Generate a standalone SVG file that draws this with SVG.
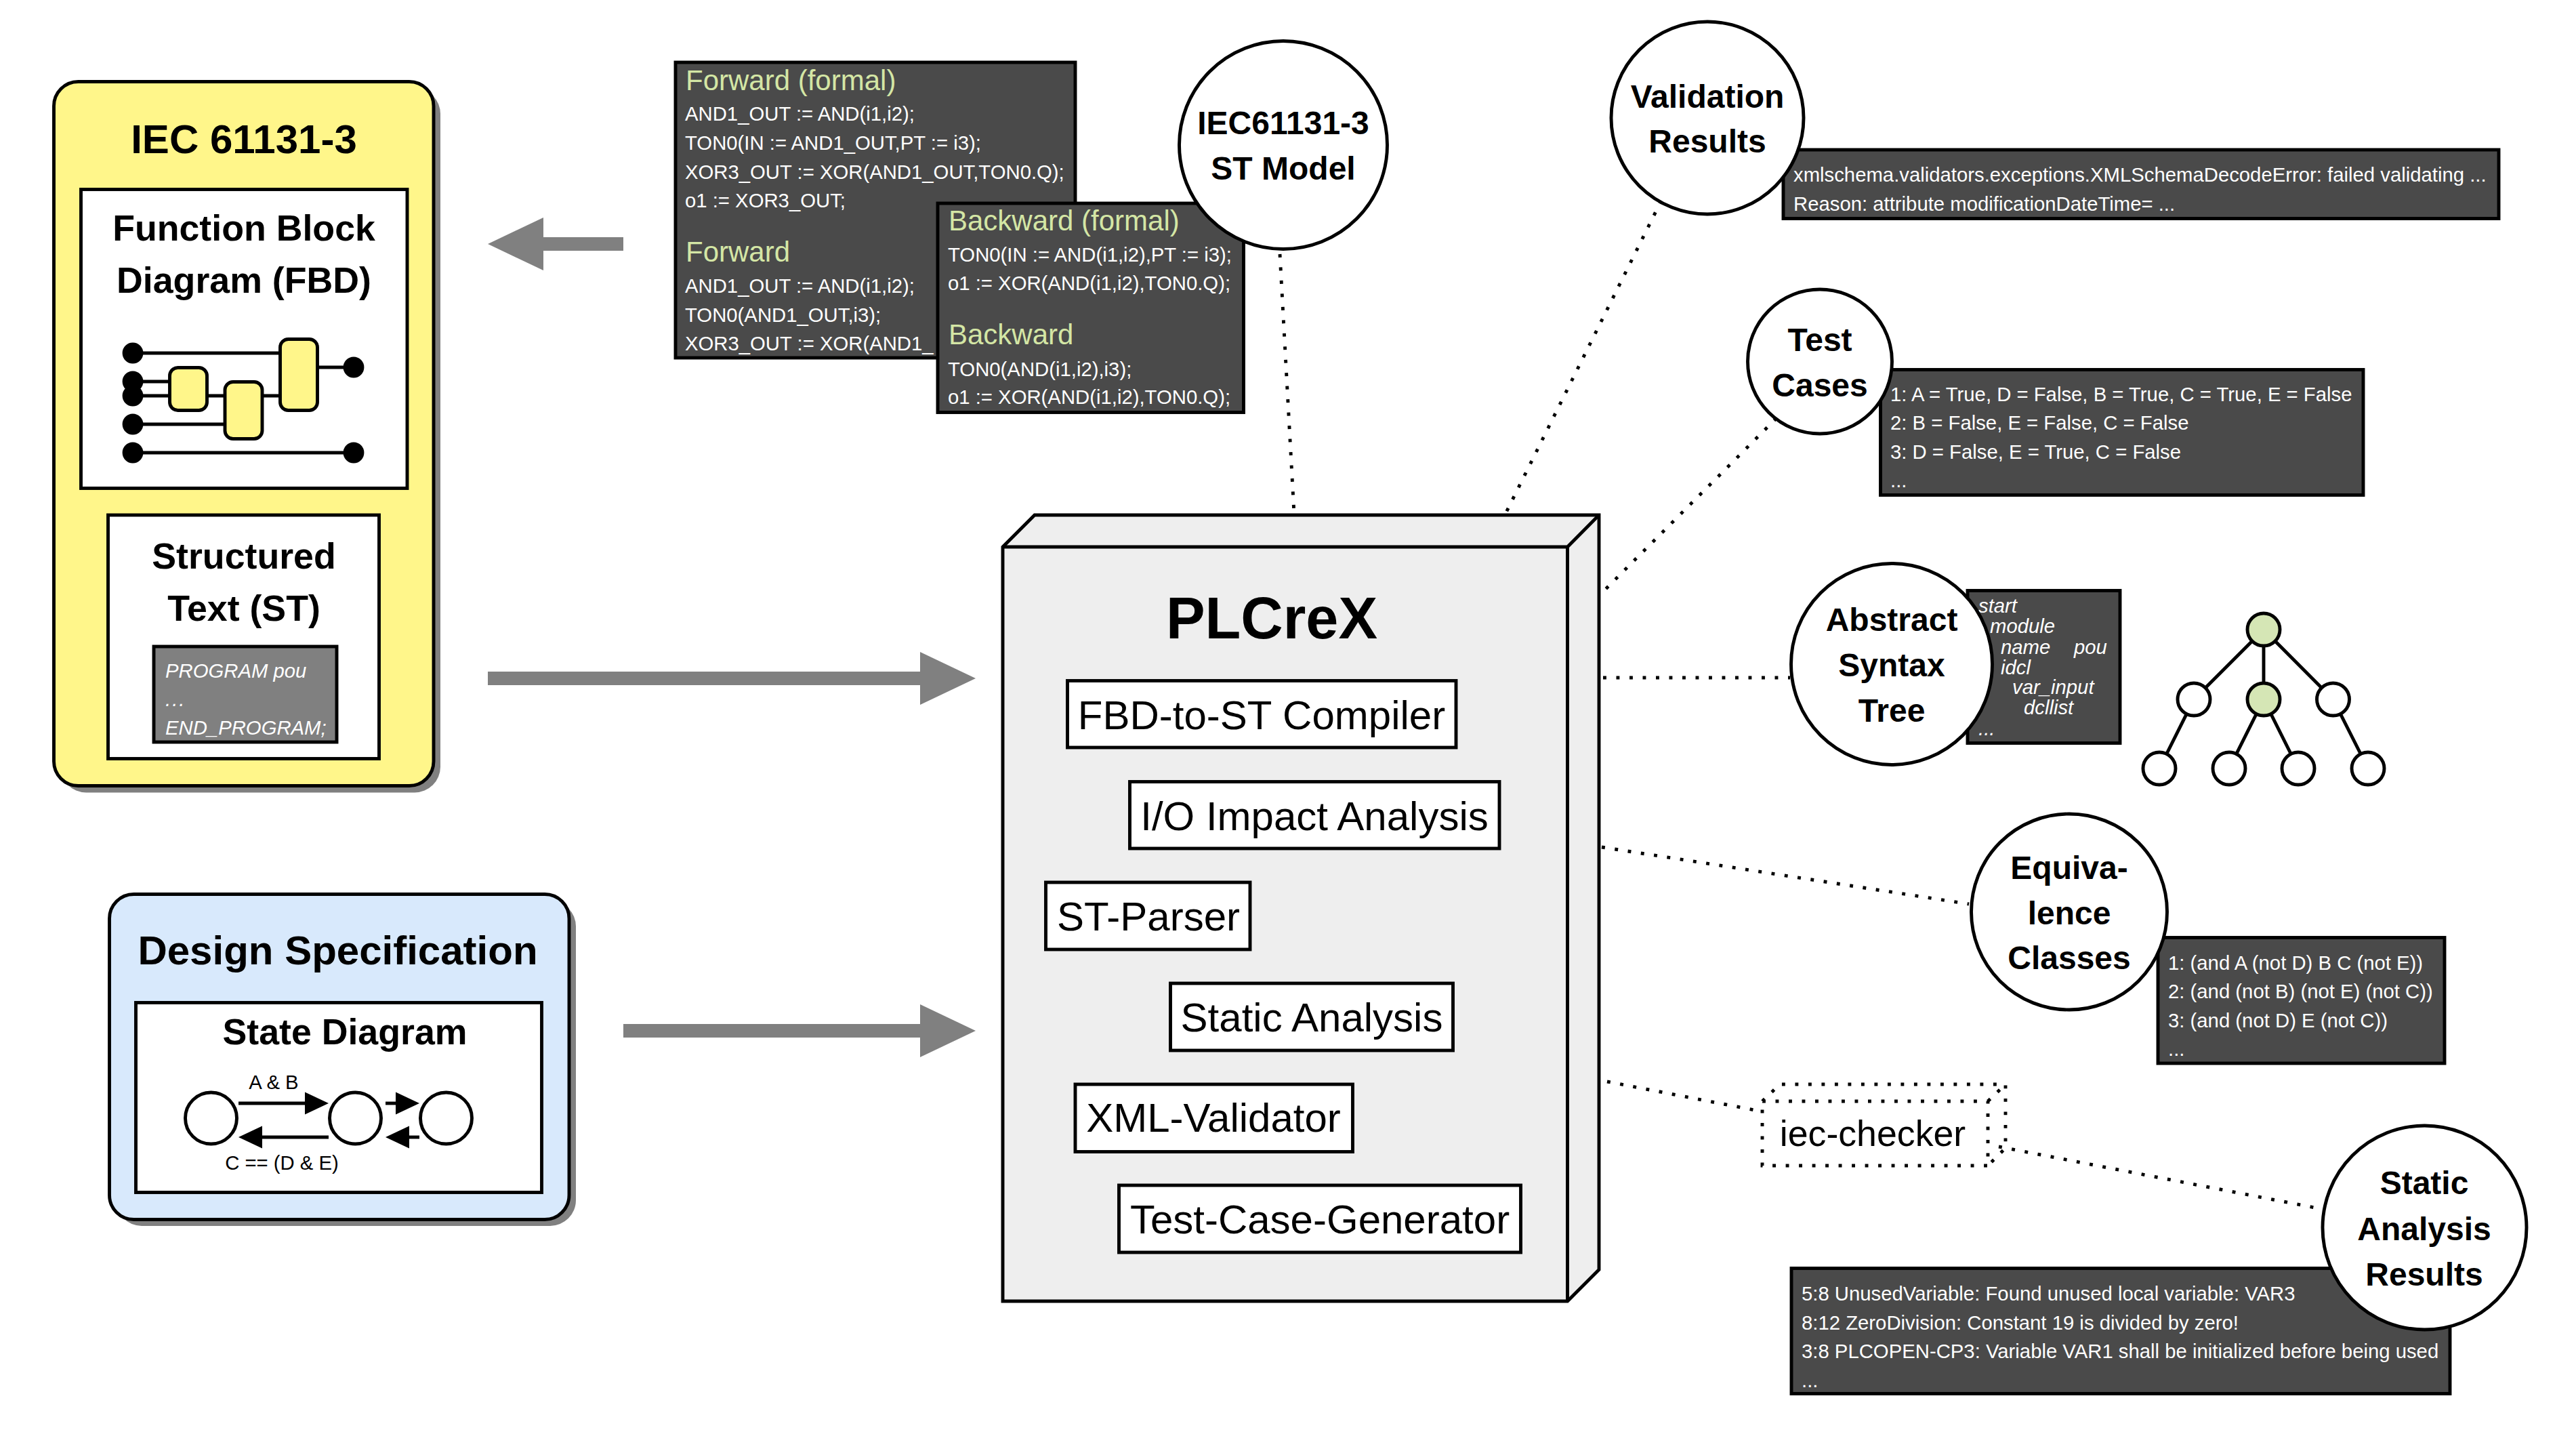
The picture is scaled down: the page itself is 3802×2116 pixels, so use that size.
<svg xmlns="http://www.w3.org/2000/svg" width="3802" height="2116" viewBox="0 0 3802 2116">
<defs>
<style>
text{font-family:"Liberation Sans",Arial,sans-serif;fill:#000}
.b{fill:none;stroke:#000;stroke-width:4.9}
.w{fill:#fff;stroke:#000;stroke-width:4.9}
.y{fill:#fff68a;stroke:#000;stroke-width:4.9}
.code{fill:#4a4a4a;stroke:#000;stroke-width:4.9}
.shadow{fill:#808080}
.dot{fill:none;stroke:#000;stroke-width:4.9;stroke-dasharray:4.9 14.6}
.fat{fill:none;stroke:#808080;stroke-width:20}
.l{stroke:#000;stroke-width:4.9;fill:none}
.h1{font-size:60px;font-weight:700;text-anchor:middle}
.h2{font-size:53.7px;font-weight:700;text-anchor:middle}
.h3{font-size:48px;font-weight:700;text-anchor:middle}
.mod{font-size:60px;text-anchor:middle}
.t{font-size:29.3px;fill:#fff}
.i{font-size:29.3px;fill:#fff;font-style:italic}
.g{font-size:42px;fill:#d4e6a5}
.s{font-size:29.3px;text-anchor:middle}
</style>
<marker id="fatHead" markerUnits="userSpaceOnUse" markerWidth="84" markerHeight="80" refX="0" refY="40" orient="auto"><path d="M0 1L82 40L0 79Z" fill="#808080"/></marker>
<marker id="smallHead" markerUnits="userSpaceOnUse" markerWidth="36" markerHeight="34" refX="0" refY="17" orient="auto"><path d="M0 0.5L35 17L0 33.5Z" fill="#000"/></marker>
</defs>
<g id="connectors">
<line class="fat" x1="920" y1="360" x2="802" y2="360" marker-end="url(#fatHead)"/>
<line class="fat" x1="720" y1="1001" x2="1358" y2="1001" marker-end="url(#fatHead)"/>
<line class="fat" x1="920" y1="1521" x2="1358" y2="1521" marker-end="url(#fatHead)"/>
<line class="dot" x1="1889" y1="375" x2="1910" y2="758"/>
<line class="dot" x1="2452" y1="296" x2="2222" y2="758"/>
<line class="dot" x1="2622" y1="617" x2="2360" y2="879"/>
<line class="dot" x1="2366" y1="1000" x2="2642" y2="1000"/>
<line class="dot" x1="2364" y1="1250" x2="2906" y2="1334"/>
<line class="dot" x1="2372" y1="1596" x2="2600" y2="1640"/>
<line class="dot" x1="2950" y1="1692" x2="3427" y2="1784"/>
</g>
<g id="iec-standard">
<rect class="shadow" x="89" y="130" width="561" height="1039.500" rx="38"/>
<rect class="y" x="79.500" y="120.500" width="560.500" height="1039" rx="36"/>
<text class="h1" x="360" y="226">IEC 61131-3</text>
</g>
<g id="fbd">
<rect class="w" x="119.500" y="279.500" width="481.500" height="441"/>
<text class="h2" x="360" y="355">Function Block</text>
<text class="h2" x="360" y="432">Diagram (FBD)</text>
<path class="l" d="M196 521H412M196 563H250M196 584H250M306 584H331M387 584H412M196 626H331M196 668H522M469 542H522"/>
<circle cx="196" cy="521" r="15.400"/><circle cx="196" cy="563" r="15.400"/><circle cx="196" cy="584" r="15.400"/><circle cx="196" cy="626" r="15.400"/><circle cx="196" cy="668" r="15.400"/><circle cx="522" cy="542" r="15.400"/><circle cx="522" cy="668" r="15.400"/>
<rect class="y" x="250.500" y="542.500" width="55" height="63" rx="12"/>
<rect class="y" x="332" y="563.500" width="55" height="84" rx="12"/>
<rect class="y" x="413.500" y="500.500" width="55" height="105" rx="12"/>
</g>
<g id="st">
<rect class="w" x="159.500" y="760" width="400" height="359.500"/>
<text class="h2" x="360" y="839">Structured</text>
<text class="h2" x="360" y="916">Text (ST)</text>
<rect x="227" y="954" width="270" height="141" fill="#808080" stroke="#000" stroke-width="4.900"/>
<text class="i" x="244" y="1000">PROGRAM pou</text>
<text class="i" x="244" y="1042" letter-spacing="2">...</text>
<text class="i" x="244" y="1084">END_PROGRAM;</text>
</g>
<g id="forward-code">
<rect class="code" x="997" y="92" width="590" height="436"/>
<text class="g" x="1012" y="133">Forward (formal)</text>
<text class="t" x="1011" y="178">AND1_OUT := AND(i1,i2);</text>
<text class="t" x="1011" y="221">TON0(IN := AND1_OUT,PT := i3);</text>
<text class="t" x="1011" y="264">XOR3_OUT := XOR(AND1_OUT,TON0.Q);</text>
<text class="t" x="1011" y="306">o1 := XOR3_OUT;</text>
<text class="g" x="1012" y="386">Forward</text>
<text class="t" x="1011" y="432">AND1_OUT := AND(i1,i2);</text>
<text class="t" x="1011" y="475">TON0(AND1_OUT,i3);</text>
<text class="t" x="1011" y="517">XOR3_OUT := XOR(AND1_</text>
</g>
<g id="backward-code">
<rect class="code" x="1384" y="300" width="451.500" height="308.500"/>
<text class="g" x="1400" y="340">Backward (formal)</text>
<text class="t" x="1399" y="386">TON0(IN := AND(i1,i2),PT := i3);</text>
<text class="t" x="1399" y="428">o1 := XOR(AND(i1,i2),TON0.Q);</text>
<text class="g" x="1400" y="508">Backward</text>
<text class="t" x="1399" y="555">TON0(AND(i1,i2),i3);</text>
<text class="t" x="1399" y="596">o1 := XOR(AND(i1,i2),TON0.Q);</text>
</g>
<g id="st-model">
<circle class="w" cx="1894" cy="214" r="153.500"/>
<text class="h3" x="1894" y="198">IEC61131-3</text>
<text class="h3" x="1894" y="265">ST Model</text>
</g>
<g id="design-spec">
<rect class="shadow" x="171" y="1329" width="679" height="480" rx="38"/>
<rect class="b" x="161.500" y="1319.500" width="678.500" height="480" rx="36" style="fill:#d8e9fc"/>
<text class="h1" x="498.500" y="1423">Design Specification</text>
<rect class="w" x="200.500" y="1479.500" width="599" height="280"/>
<text class="h2" x="509" y="1541">State Diagram</text>
<circle class="w" cx="311.500" cy="1650" r="38"/>
<circle class="w" cx="524.500" cy="1650" r="38"/>
<circle class="w" cx="658.500" cy="1650" r="38"/>
<line class="l" x1="352" y1="1628" x2="450" y2="1628" marker-end="url(#smallHead)"/>
<line class="l" x1="569" y1="1628" x2="584" y2="1628" marker-end="url(#smallHead)"/>
<line class="l" x1="485" y1="1678" x2="387" y2="1678" marker-end="url(#smallHead)"/>
<line class="l" x1="619" y1="1678" x2="604" y2="1678" marker-end="url(#smallHead)"/>
<text class="s" x="404" y="1607">A &amp; B</text>
<text class="s" x="416" y="1726">C == (D &amp; E)</text>
</g>
<g id="plcrex">
<path d="M1480 807L1527 760H2360V1873.500L2313.500 1920H1480Z" fill="#eee" stroke="#000" stroke-width="4.900"/>
<path class="b" d="M1480 807H2313.500L2360 760M2313.500 807V1920"/>
<text x="1877" y="942" font-size="86.400" font-weight="700" text-anchor="middle">PLCreX</text>
</g>
<g id="fbd-compiler"><rect class="w" x="1575.500" y="1004.500" width="573.500" height="98.500"/><text class="mod" x="1862" y="1076">FBD-to-ST Compiler</text></g>
<g id="io-impact"><rect class="w" x="1667.500" y="1153.500" width="545.500" height="98.500"/><text class="mod" x="1940" y="1225">I/O Impact Analysis</text></g>
<g id="st-parser"><rect class="w" x="1543.500" y="1302" width="301.500" height="99"/><text class="mod" x="1695" y="1373">ST-Parser</text></g>
<g id="static-analysis"><rect class="w" x="1727.500" y="1451" width="417" height="99"/><text class="mod" x="1936" y="1522">Static Analysis</text></g>
<g id="xml-validator"><rect class="w" x="1587" y="1600" width="409.500" height="99.500"/><text class="mod" x="1791" y="1670">XML-Validator</text></g>
<g id="test-generator"><rect class="w" x="1651.500" y="1749" width="593" height="99"/><text class="mod" x="1948" y="1820">Test-Case-Generator</text></g>
<g id="validation">
<rect class="code" x="2632" y="221" width="1056" height="101.500"/>
<text class="t" x="2647" y="268">xmlschema.validators.exceptions.XMLSchemaDecodeError: failed validating ...</text>
<text class="t" x="2647" y="311">Reason: attribute modificationDateTime= ...</text>
<circle class="w" cx="2520" cy="174" r="142"/>
<text class="h3" x="2520" y="159">Validation</text>
<text class="h3" x="2520" y="225">Results</text>
</g>
<g id="test-cases">
<rect class="code" x="2775.500" y="545.500" width="712.500" height="185"/>
<text class="t" x="2790" y="592">1: A = True, D = False, B = True, C = True, E = False</text>
<text class="t" x="2790" y="634">2: B = False, E = False, C = False</text>
<text class="t" x="2790" y="677">3: D = False, E = True, C = False</text>
<text class="t" x="2790" y="719">...</text>
<circle class="w" cx="2686" cy="533.500" r="106.500"/>
<text class="h3" x="2686" y="518">Test</text>
<text class="h3" x="2686" y="585">Cases</text>
</g>
<g id="ast">
<rect class="code" x="2904" y="871.500" width="225" height="225"/>
<text class="i" x="2920" y="904">start</text>
<text class="i" x="2937" y="934">module</text>
<text class="i" x="2953" y="965">name</text>
<text class="i" x="3061" y="965">pou</text>
<text class="i" x="2953" y="995">idcl</text>
<text class="i" x="2970" y="1024">var_input</text>
<text class="i" x="2987" y="1054">dcllist</text>
<text class="i" x="2920" y="1085">...</text>
<circle class="w" cx="2792" cy="980" r="148.500"/>
<text class="h3" x="2792" y="931">Abstract</text>
<text class="h3" x="2792" y="998">Syntax</text>
<text class="h3" x="2792" y="1065">Tree</text>
</g>
<g id="tree">
<path class="l" d="M3341 929L3238 1032L3187 1134M3341 929V1032L3290 1134M3341 1032L3392 1134M3341 929L3443.500 1032L3495 1134"/>
<circle cx="3341" cy="929" r="24" fill="#d5e6b5" stroke="#000" stroke-width="4.900"/>
<circle class="w" cx="3238" cy="1032" r="24"/>
<circle cx="3341" cy="1032" r="24" fill="#d5e6b5" stroke="#000" stroke-width="4.900"/>
<circle class="w" cx="3443.500" cy="1032" r="24"/>
<circle class="w" cx="3187" cy="1134" r="24"/>
<circle class="w" cx="3290" cy="1134" r="24"/>
<circle class="w" cx="3392" cy="1134" r="24"/>
<circle class="w" cx="3495" cy="1134" r="24"/>
</g>
<g id="equivalence">
<rect class="code" x="3185" y="1383.500" width="423" height="185.500"/>
<text class="t" x="3200" y="1431">1: (and A (not D) B C (not E))</text>
<text class="t" x="3200" y="1473">2: (and (not B) (not E) (not C))</text>
<text class="t" x="3200" y="1516">3: (and (not D) E (not C))</text>
<text class="t" x="3200" y="1558">...</text>
<circle class="w" cx="3054" cy="1345.500" r="144.500"/>
<text class="h3" x="3054" y="1297">Equiva-</text>
<text class="h3" x="3054" y="1364">lence</text>
<text class="h3" x="3054" y="1430">Classes</text>
</g>
<g id="iec-checker">
<path class="dot" d="M2601 1625H2934V1720H2601ZM2601 1625L2627 1600H2960V1694L2934 1720M2934 1625L2960 1600"/>
<text x="2764" y="1691" font-size="53.700" text-anchor="middle">iec-checker</text>
</g>
<g id="static-results">
<rect class="code" x="2644" y="1871.500" width="972" height="185"/>
<text class="t" x="2659" y="1919">5:8 UnusedVariable: Found unused local variable: VAR3</text>
<text class="t" x="2659" y="1962">8:12 ZeroDivision: Constant 19 is divided by zero!</text>
<text class="t" x="2659" y="2004">3:8 PLCOPEN-CP3: Variable VAR1 shall be initialized before being used</text>
<text class="t" x="2659" y="2047">...</text>
<circle class="w" cx="3578.500" cy="1811.500" r="150.500"/>
<text class="h3" x="3578" y="1762">Static</text>
<text class="h3" x="3578" y="1830">Analysis</text>
<text class="h3" x="3578" y="1897">Results</text>
</g>
</svg>
